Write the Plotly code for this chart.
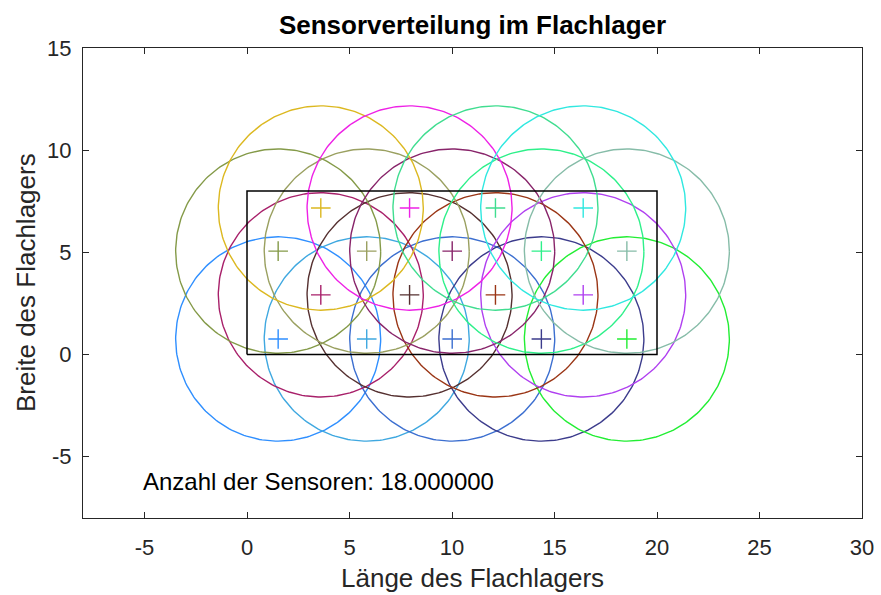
import numpy as np
import plotly.graph_objects as go

# Sensor positions
sensor_x = [1.52, 5.84, 10.01, 14.36, 18.53,
            3.60, 7.93, 12.12, 16.40,
            1.52, 5.84, 10.01, 14.36, 18.53,
            3.60, 7.93, 12.12, 16.40]
sensor_y = [0.76, 0.76, 0.76, 0.76, 0.76,
            2.92, 2.92, 2.92, 2.92,
            5.06, 5.06, 5.06, 5.06, 5.06,
            7.17, 7.17, 7.17, 7.17]
sensor_radius = 5.0
sensor_colors = ["#2f8fff", "#3fa8e0", "#3c6fd0", "#3c3c8c", "#22ee33",
                 "#a8206a", "#553030", "#9a3515", "#b040f0",
                 "#849a48", "#9aa060", "#88246a", "#2ef08a", "#86bca8",
                 "#dcb820", "#ee22e6", "#40dd90", "#30e8e0"]

# Bearing outline
bearing_x = [0, 20, 20, 0, 0]
bearing_y = [0, 0, 8, 8, 0]

x_ticks = [-5, 0, 5, 10, 15, 20, 25, 30]
x_ticktext = ["-5", "0", "5", "10", "15", "20", "25", "30"]
y_ticks = [-5, 0, 5, 10, 15]
y_ticktext = ["-5", "0", "5", "10", "15"]
n_sensors = len(sensor_x)

FONT = "Liberation Sans, Arial, Helvetica, sans-serif"
AX = "#262626"

fig = go.Figure()
t = np.linspace(0, 2 * np.pi, 241)
for cx, cy, col in zip(sensor_x, sensor_y, sensor_colors):
    fig.add_trace(go.Scatter(x=cx + sensor_radius * np.cos(t), y=cy + sensor_radius * np.sin(t),
                             mode="lines", line=dict(color=col, width=1.4),
                             hoverinfo="skip", showlegend=False))
fig.add_trace(go.Scatter(x=bearing_x, y=bearing_y, mode="lines",
                         line=dict(color="#000000", width=1.5), showlegend=False))
for cx, cy, col in zip(sensor_x, sensor_y, sensor_colors):
    fig.add_trace(go.Scatter(x=[cx], y=[cy], mode="markers",
                             marker=dict(symbol="cross-thin", size=14,
                                         line=dict(color=col, width=1.4)),
                             showlegend=False))

fig.add_annotation(x=-5, y=-6.2, xref="x", yref="y", xanchor="left", yanchor="middle",
                   xshift=-4, text="Anzahl der Sensoren: %f" % n_sensors, showarrow=False,
                   font=dict(family=FONT, size=24, color="#000000"))
fig.add_annotation(x=0.5, y=0, xref="paper", yref="paper", xanchor="center", yanchor="middle",
                   yshift=-60, text="Länge des Flachlagers", showarrow=False,
                   font=dict(family=FONT, size=26, color=AX))
fig.add_annotation(x=0, y=0.5, xref="paper", yref="paper", xanchor="center", yanchor="middle",
                   xshift=-57, textangle=-90, text="Breite des Flachlagers", showarrow=False,
                   font=dict(family=FONT, size=26, color=AX))

axis_common = dict(showline=True, linecolor=AX, linewidth=1, mirror="ticks",
                   ticks="inside", ticklen=6, tickcolor=AX, tickwidth=1,
                   showgrid=False, zeroline=False, automargin=False,
                   ticklabeloverflow="allow",
                   tickfont=dict(family=FONT, size=22, color=AX))
W, H = 881, 595
fig.update_layout(
    width=W, height=H,
    margin=dict(l=83, r=19, t=48, b=77),
    paper_bgcolor="white", plot_bgcolor="white",
    title=dict(text="<b>Sensorverteilung im Flachlager</b>", x=472.5 / W, xanchor="center",
               y=1 - 25 / H, yanchor="middle",
               font=dict(family=FONT, size=26, color="#000000")),
    xaxis=dict(range=[-8, 30], tickvals=x_ticks, ticktext=x_ticktext,
               ticklabelstandoff=10, **axis_common),
    yaxis=dict(range=[-8, 15], tickvals=y_ticks, ticktext=y_ticktext,
               ticklabelstandoff=6, **axis_common),
)
fig.write_html("out.html", config={"displayModeBar": False},
               post_script="document.body.style.margin='0px';")
